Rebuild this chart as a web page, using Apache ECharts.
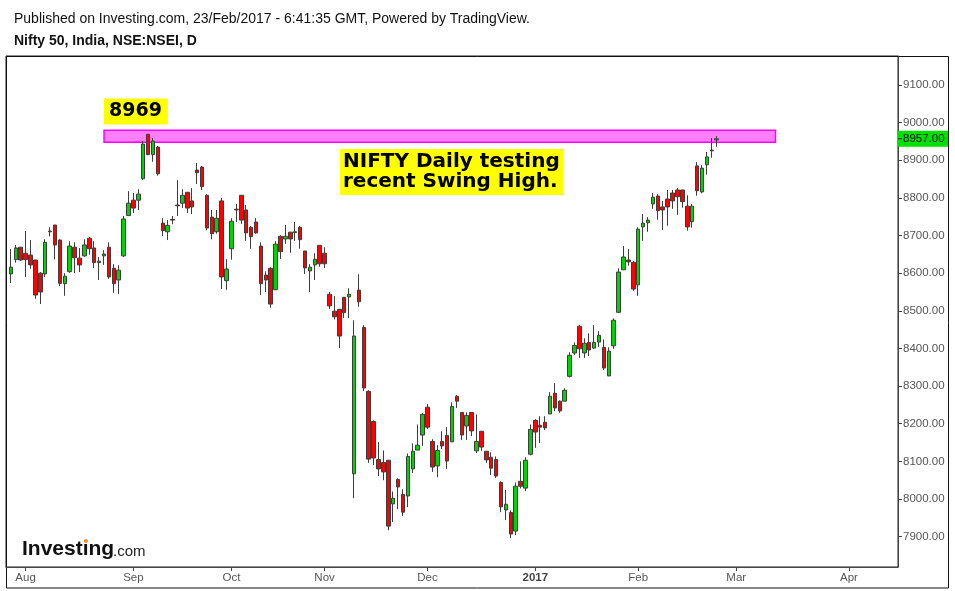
<!DOCTYPE html>
<html><head><meta charset="utf-8">
<script src="https://cdn.jsdelivr.net/npm/echarts@6/dist/echarts.min.js"></script>
<style>html,body{margin:0;padding:0;background:#fff;} #main{width:955px;height:591px;}</style>
</head><body><div id="main"></div>
<script>
// Trading days (first entry is an off-screen day, last entries are future weekdays)
const tradingDates = [
'2016-07-26','2016-07-27','2016-07-28','2016-07-29',
'2016-08-01','2016-08-02','2016-08-03','2016-08-04','2016-08-05','2016-08-08','2016-08-09','2016-08-10','2016-08-11','2016-08-12',
'2016-08-16','2016-08-17','2016-08-18','2016-08-19','2016-08-22','2016-08-23','2016-08-24','2016-08-25','2016-08-26','2016-08-29','2016-08-30','2016-08-31',
'2016-09-01','2016-09-02','2016-09-06','2016-09-07','2016-09-08','2016-09-09','2016-09-12','2016-09-14','2016-09-15','2016-09-16',
'2016-09-19','2016-09-20','2016-09-21','2016-09-22','2016-09-23','2016-09-26','2016-09-27','2016-09-28','2016-09-29','2016-09-30',
'2016-10-03','2016-10-04','2016-10-05','2016-10-06','2016-10-07','2016-10-10','2016-10-13','2016-10-14','2016-10-17','2016-10-18',
'2016-10-19','2016-10-20','2016-10-21','2016-10-24','2016-10-25','2016-10-26','2016-10-27','2016-10-28','2016-10-30',
'2016-11-01','2016-11-02','2016-11-03','2016-11-04','2016-11-07','2016-11-08','2016-11-09','2016-11-10','2016-11-11','2016-11-15',
'2016-11-16','2016-11-17','2016-11-18','2016-11-21','2016-11-22','2016-11-23','2016-11-24','2016-11-25','2016-11-28','2016-11-29','2016-11-30',
'2016-12-01','2016-12-02','2016-12-05','2016-12-06','2016-12-07','2016-12-08','2016-12-09','2016-12-12','2016-12-13','2016-12-14','2016-12-15',
'2016-12-16','2016-12-19','2016-12-20','2016-12-21','2016-12-22','2016-12-23','2016-12-26','2016-12-27','2016-12-28','2016-12-29','2016-12-30',
'2017-01-02','2017-01-03','2017-01-04','2017-01-05','2017-01-06','2017-01-09','2017-01-10','2017-01-11','2017-01-12','2017-01-13','2017-01-16',
'2017-01-17','2017-01-18','2017-01-19','2017-01-20','2017-01-23','2017-01-24','2017-01-25','2017-01-27','2017-01-30','2017-01-31',
'2017-02-01','2017-02-02','2017-02-03','2017-02-06','2017-02-07','2017-02-08','2017-02-09','2017-02-10','2017-02-13','2017-02-14',
'2017-02-15','2017-02-16','2017-02-17','2017-02-20','2017-02-21','2017-02-22','2017-02-23',
'2017-02-24','2017-02-27','2017-02-28',
'2017-03-01','2017-03-02','2017-03-03','2017-03-06','2017-03-07','2017-03-08','2017-03-09','2017-03-10','2017-03-13','2017-03-14','2017-03-15',
'2017-03-16','2017-03-17','2017-03-20','2017-03-21','2017-03-22','2017-03-23','2017-03-24','2017-03-27','2017-03-28','2017-03-29','2017-03-30','2017-03-31',
'2017-04-03','2017-04-04','2017-04-05','2017-04-06','2017-04-07','2017-04-10','2017-04-11','2017-04-12','2017-04-13','2017-04-14','2017-04-17'
];
// Daily candles from 2016-07-27 to 2017-02-23: [open, close, low, high]
const ohlc = [
[8598,8616,8574,8664],[8636,8667,8628,8675],[8669,8635,8633,8669],[8653,8636,8590,8712],[8648,8622,8612,8688],
[8635,8542,8532,8635],[8600,8550,8518,8603],[8598,8682,8590,8690],[8712,8710,8698,8722],[8728,8675,8637,8728],
[8688,8573,8566,8690],[8572,8592,8540,8600],[8604,8672,8601,8685],[8669,8641,8600,8682],[8640,8622,8603,8667],
[8646,8675,8643,8690],[8693,8665,8649,8696],[8667,8628,8614,8685],[8628,8632,8582,8643],[8646,8651,8622,8661],
[8669,8590,8585,8682],[8613,8572,8548,8624],[8582,8608,8545,8621],[8646,8744,8643,8752],[8753,8786,8752,8818],
[8794,8773,8760,8813],[8794,8810,8768,8823],[8851,8943,8848,8951],[8969,8915,8915,8969],[8915,8951,8896,8959],
[8935,8864,8859,8938],[8733,8713,8699,8746],[8710,8727,8688,8741],[8743,8741,8730,8752],[8781,8779,8752,8847],
[8786,8807,8773,8823],[8815,8773,8760,8815],[8792,8776,8757,8826],[8874,8867,8837,8893],[8882,8830,8821,8885],
[8807,8720,8714,8810],[8749,8705,8690,8768],[8710,8746,8705,8768],[8792,8590,8558,8800],[8580,8611,8556,8637],
[8665,8738,8636,8746],[8770,8768,8736,8784],[8807,8741,8731,8807],[8768,8707,8686,8781],[8722,8697,8665,8725],
[8736,8707,8705,8746],[8672,8572,8542,8682],[8595,8582,8550,8605],[8613,8518,8508,8616],[8556,8677,8556,8685],
[8698,8657,8638,8701],[8691,8698,8678,8728],[8709,8691,8654,8709],[8710,8708,8686,8736],[8722,8689,8665,8725],
[8659,8614,8598,8659],[8606,8616,8550,8624],[8622,8637,8582,8653],[8674,8625,8617,8674],[8653,8625,8614,8669],
[8544,8513,8505,8550],[8499,8484,8477,8539],[8504,8433,8401,8504],[8536,8495,8481,8536],[8537,8544,8481,8560],
[8067,8433,8002,8475],[8555,8524,8511,8597],[8456,8295,8287,8462],[8286,8106,8096,8289],[8206,8109,8090,8209],
[8105,8080,8061,8151],[8097,8072,8050,8129],[8103,7928,7917,8103],[7987,8002,7939,8020],[8052,8032,7973,8055],
[8012,7965,7955,8026],[8008,8113,7979,8121],[8080,8127,8069,8148],[8130,8143,8130,8198],[8170,8225,8141,8228],
[8244,8191,8186,8252],[8153,8085,8072,8159],[8088,8129,8058,8143],[8153,8141,8133,8180],[8169,8101,8080,8191],
[8152,8246,8151,8257],[8273,8260,8242,8276],[8230,8170,8157,8230],[8194,8222,8157,8230],[8230,8181,8167,8230],
[8128,8153,8122,8225],[8180,8138,8128,8180],[8127,8104,8096,8127],[8111,8082,8064,8124],[8105,8061,8056,8113],
[8044,7979,7965,8047],[7971,7986,7944,8024],[7964,7907,7896,7970],[7915,8034,7904,8044],[8047,8034,8028,8100],
[8029,8103,8021,8111],[8119,8185,8116,8198],[8209,8178,8136,8212],[8196,8191,8149,8220],[8204,8189,8183,8220],
[8226,8273,8226,8284],[8281,8242,8234,8308],[8260,8234,8229,8262],[8260,8289,8260,8294],[8326,8382,8323,8390],
[8388,8408,8383,8416],[8459,8399,8375,8462],[8388,8414,8375,8427],[8416,8396,8380,8440],[8401,8416,8399,8462],
[8417,8435,8404,8446],[8403,8348,8343,8424],[8327,8393,8327,8403],[8407,8475,8399,8480],[8496,8603,8494,8613],
[8609,8643,8609,8672],[8635,8630,8620,8664],[8629,8558,8553,8632],[8569,8717,8540,8722],[8723,8733,8686,8757],
[8734,8741,8710,8749],[8784,8802,8771,8813],[8805,8766,8742,8810],[8776,8768,8715,8792],[8797,8776,8726,8821],
[8813,8792,8771,8821],[8821,8803,8755,8826],[8821,8790,8774,8821],[8778,8723,8713,8807],[8737,8778,8721,8784],
[8885,8819,8806,8895],[8816,8879,8812,8887],[8888,8909,8862,8922],[8927,8925,8907,8959],[8954,8957,8936,8964]
];
const monthTickDates = ['2016-08-01','2016-09-01','2016-10-03','2016-11-01','2016-12-01','2017-01-02','2017-02-01','2017-03-01','2017-04-03'];
const monthTickLabels = ['Aug','Sep','Oct','Nov','Dec','2017','Feb','Mar','Apr'];
const priceTicks = [7900,8000,8100,8200,8300,8400,8500,8600,8700,8800,8900,9000,9100];
const swingHigh = 8969;
const bandLow = 8948, bandHigh = 8980;
const bandStart = '2016-08-24', bandEnd = '2017-03-13';

const candleData = ['-'].concat(ohlc);
const lastClose = ohlc[ohlc.length - 1][1];

const chart = echarts.init(document.getElementById('main'));
const sans = '"Liberation Sans", Arial, sans-serif';
chart.setOption({
  animation: false,
  backgroundColor: '#fff',
  grid: {left: 6, top: 56, right: 57, bottom: 24, show: true, borderColor: '#222', borderWidth: 1},
  xAxis: {
    type: 'category', data: tradingDates, boundaryGap: false,
    axisLine: {lineStyle: {color: '#444', width: 1}},
    axisTick: {interval: (i, v) => monthTickDates.indexOf(v) >= 0, length: 4, lineStyle: {color: '#444'}},
    axisLabel: {
      interval: (i, v) => monthTickDates.indexOf(v) >= 0,
      formatter: v => { const l = monthTickLabels[monthTickDates.indexOf(v)]; return l === '2017' ? '{y|2017}' : l; },
      color: '#555', fontSize: 11.5, fontFamily: sans, margin: 5,
      rich: {y: {fontWeight: 'bold', color: '#444', fontSize: 11.5, fontFamily: sans}}
    },
    splitLine: {show: false}
  },
  yAxis: {
    type: 'value', position: 'right', min: 7819.4, max: 9177, scale: true,
    axisLine: {show: true, lineStyle: {color: '#444'}},
    axisTick: {show: true, length: 4, customValues: priceTicks, lineStyle: {color: '#444'}},
    axisLabel: {customValues: priceTicks, formatter: v => v.toFixed(2), color: '#555', fontSize: 11.5, fontFamily: sans, margin: 5},
    splitLine: {show: false}
  },
  series: [{
    type: 'candlestick', data: candleData, barWidth: 4,
    itemStyle: {color: '#00d400', color0: '#ff0000', borderColor: '#3d3d3d', borderColor0: '#3d3d3d', borderWidth: 1},
    markArea: {
      silent: true,
      itemStyle: {color: 'rgba(255,0,255,0.5)', borderColor: '#ff00ff', borderWidth: 1.5},
      data: [[{xAxis: bandStart, yAxis: bandLow}, {xAxis: bandEnd, yAxis: bandHigh}]]
    }
  }]
});

const py = chart.convertToPixel({yAxisIndex: 0}, lastClose);
chart.setOption({
  graphic: [
    {type: 'rect', shape: {x: 6.5, y: 56.5, width: 942, height: 531.5}, style: {fill: 'none', stroke: '#111', lineWidth: 1}, silent: true},
    {type: 'text', x: 14, y: 19.5, style: {text: 'Published on Investing.com, 23/Feb/2017 - 6:41:35 GMT, Powered by TradingView.', font: '14px ' + sans, fill: '#111', verticalAlign: 'middle'}},
    {type: 'text', x: 14, y: 41.5, style: {text: 'Nifty 50, India, NSE:NSEI, D', font: 'bold 14px ' + sans, fill: '#111', verticalAlign: 'middle'}},
    {type: 'text', x: 104, y: 98.5, z: 100, style: {text: String(swingHigh), font: 'bold 19px "DejaVu Sans", Verdana, sans-serif', fill: '#000', backgroundColor: '#ffff00', padding: [3, 6, 3, 5], lineHeight: 20, verticalAlign: 'top'}},
    {type: 'text', x: 340, y: 149, z: 100, style: {text: 'NIFTY Daily testing\nrecent Swing High.', font: 'bold 20px "DejaVu Sans", Verdana, sans-serif', fill: '#000', backgroundColor: '#ffff00', padding: [3, 4, 3, 3], lineHeight: 20, verticalAlign: 'top'}},
    {type: 'text', x: 22, y: 549.5, style: {text: 'Investing', font: 'bold 21px ' + sans, fill: '#111', verticalAlign: 'middle'}},
    {type: 'text', x: 113, y: 551.5, style: {text: '.com', font: '15px ' + sans, fill: '#222', verticalAlign: 'middle'}},
    {type: 'circle', shape: {cx: 86, cy: 541, r: 2}, style: {fill: '#f7931e'}},
    {type: 'rect', shape: {x: 898, y: py - 8, width: 50, height: 16}, style: {fill: '#00e000'}, z: 100},
    {type: 'line', shape: {x1: 898, y1: py, x2: 902, y2: py}, style: {stroke: '#333', lineWidth: 1}, z: 101},
    {type: 'text', x: 903, y: py, z: 101, style: {text: lastClose.toFixed(2), font: '11.5px ' + sans, fill: '#111', verticalAlign: 'middle'}}
  ]
});
</script></body></html>
